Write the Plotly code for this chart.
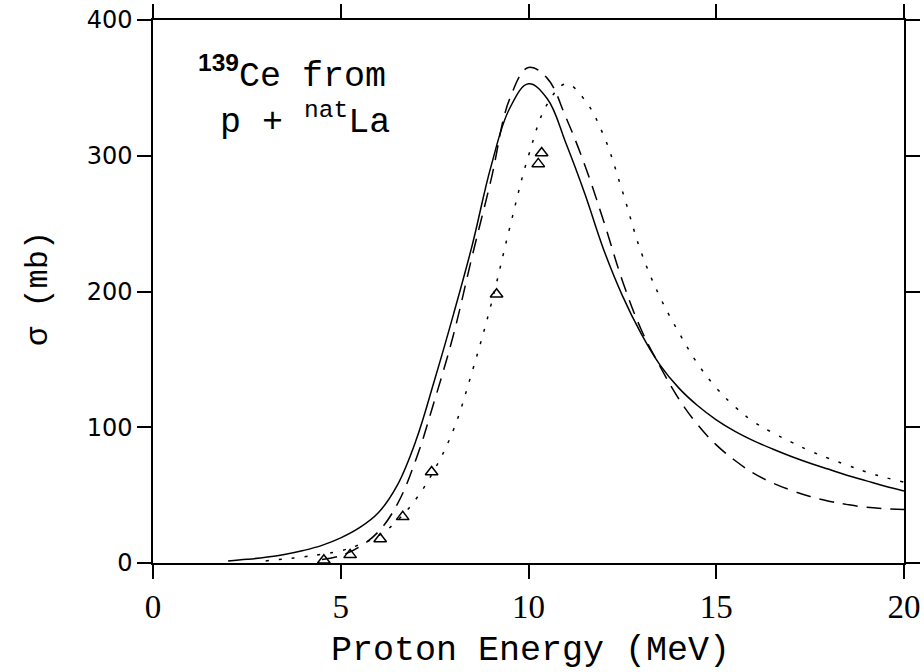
import plotly.graph_objects as go

# Solid curve
e_solid = [2.0, 2.5, 3.0, 3.5, 4.0, 4.5, 5.0, 5.5, 6.0, 6.5, 7.0, 7.5, 8.0, 8.5, 9.0, 9.5,
           10.0, 10.5, 11.0, 11.5, 12.0, 12.5, 13.0, 13.5, 14.0, 14.5, 15.0, 15.5, 16.0,
           16.5, 17.0, 17.5, 18.0, 18.5, 19.0, 19.5, 20.0]
s_solid = [1.5, 2.7, 4.2, 6.3, 9.2, 13, 18.5, 26, 37, 57, 90, 135, 183, 234, 292, 335,
           353, 342, 309, 272, 231, 197, 169, 146, 129, 116, 105.5, 97, 90,
           84, 78.5, 73.5, 69, 64.5, 60.5, 56.5, 53]

# Dashed curve
e_dash = [4.5, 5.0, 5.5, 6.0, 6.5, 7.0, 7.5, 8.0, 8.5, 9.0, 9.5, 10.0, 10.5, 11.0, 11.5,
          12.0, 12.5, 13.0, 13.5, 14.0, 14.5, 15.0, 15.5, 16.0, 16.5, 17.0, 17.5, 18.0,
          18.5, 19.0, 19.5, 20.0]
s_dash = [2.5, 5.5, 12, 23, 43, 76, 120, 168, 226, 282, 342, 365, 357, 328, 293,
          252, 208, 172, 145, 121, 102, 87, 75.5, 66, 59, 53.5, 49, 45.5,
          43, 41, 40, 39.5]

# Dotted curve
e_dot = [3.0, 3.5, 4.0, 4.5, 5.0, 5.5, 6.0, 6.5, 7.0, 7.5, 8.0, 8.5, 9.0, 9.5, 10.0, 10.5,
         11.0, 11.5, 12.0, 12.5, 13.0, 13.5, 14.0, 14.5, 15.0, 15.5, 16.0, 16.5, 17.0,
         17.5, 18.0, 18.5, 19.0, 19.5, 20.0]
s_dot = [1.5, 3, 4.5, 6.5, 9, 13.5, 20, 31, 47, 69, 98, 141, 190, 247, 300, 338,
         353, 341, 315, 274, 229, 196, 170, 147, 129, 115, 104, 96, 89,
         82.5, 77, 72, 67, 63, 59.5]

# Experimental data (triangles)
e_exp = [4.55, 5.25, 6.05, 6.65, 7.42, 9.15, 10.26, 10.35]
s_exp = [2, 6, 17.7, 34, 67, 198, 294, 302]

x_ticks = [0, 5, 10, 15, 20]
y_ticks = [0, 100, 200, 300, 400]

fig = go.Figure()
line_w = 1.5
fig.add_trace(go.Scatter(x=e_solid, y=s_solid, mode="lines",
                         line=dict(color="black", width=line_w, shape="spline", smoothing=1.1)))
fig.add_trace(go.Scatter(x=e_dash, y=s_dash, mode="lines",
                         line=dict(color="black", width=line_w, dash="15px,9px", shape="spline", smoothing=1.1)))
fig.add_trace(go.Scatter(x=e_dot, y=s_dot, mode="lines",
                         line=dict(color="black", width=line_w, dash="3px,10px", shape="spline", smoothing=1.1)))
fig.add_trace(go.Scatter(x=e_exp, y=s_exp, mode="markers", cliponaxis=False,
                         marker=dict(symbol="triangle-up-open", size=11, color="black",
                                     line=dict(width=1.5, color="black"))))

axis_common = dict(showline=True, linecolor="black", linewidth=1.5, mirror="ticks",
                   ticks="outside", ticklen=14, tickwidth=1.5, tickcolor="black",
                   showgrid=False, zeroline=False, automargin=False)

fig.update_xaxes(range=[0, 20], tickvals=x_ticks, ticktext=[str(v) for v in x_ticks],
                 tickfont=dict(family="Liberation Sans Narrow", size=33, color="black"),
                 **axis_common)
fig.update_yaxes(range=[0, 400], tickvals=y_ticks, ticktext=[str(v) for v in y_ticks],
                 tickfont=dict(family="DejaVu Sans", size=24, color="black"),
                 **axis_common)

W, H = 924, 672
L, R, T, B = 153, 20, 20, 109
pw, ph = W - L - R, H - T - B

def px(x):
    return (x - L) / pw

def py(y):
    return (H - B - y) / ph

mono = "Liberation Mono"
fig.add_annotation(text="Proton Energy (MeV)", xref="paper", yref="paper",
                   x=px(530), y=py(651), xanchor="center", yanchor="middle",
                   showarrow=False, font=dict(family=mono, size=35, color="black"))
fig.add_annotation(text="σ (mb)", xref="paper", yref="paper",
                   x=px(38), y=py(289), xanchor="center", yanchor="middle", textangle=-90,
                   showarrow=False, font=dict(family=mono, size=32, color="black"))
fig.add_annotation(text="<sup><span style='font-family:Liberation Sans;font-weight:bold'>139</span></sup>Ce from",
                   xref="paper", yref="paper", x=px(196), y=py(73), xanchor="left", yanchor="middle",
                   showarrow=False, font=dict(family=mono, size=35, color="black"))
fig.add_annotation(text="p + <sup>nat</sup>La",
                   xref="paper", yref="paper", x=px(218), y=py(120), xanchor="left", yanchor="middle",
                   showarrow=False, font=dict(family=mono, size=35, color="black"))

fig.update_layout(width=W, height=H, margin=dict(l=L, r=R, t=T, b=B, autoexpand=False),
                  plot_bgcolor="white", paper_bgcolor="white", showlegend=False)

fig.write_html("out.html")
